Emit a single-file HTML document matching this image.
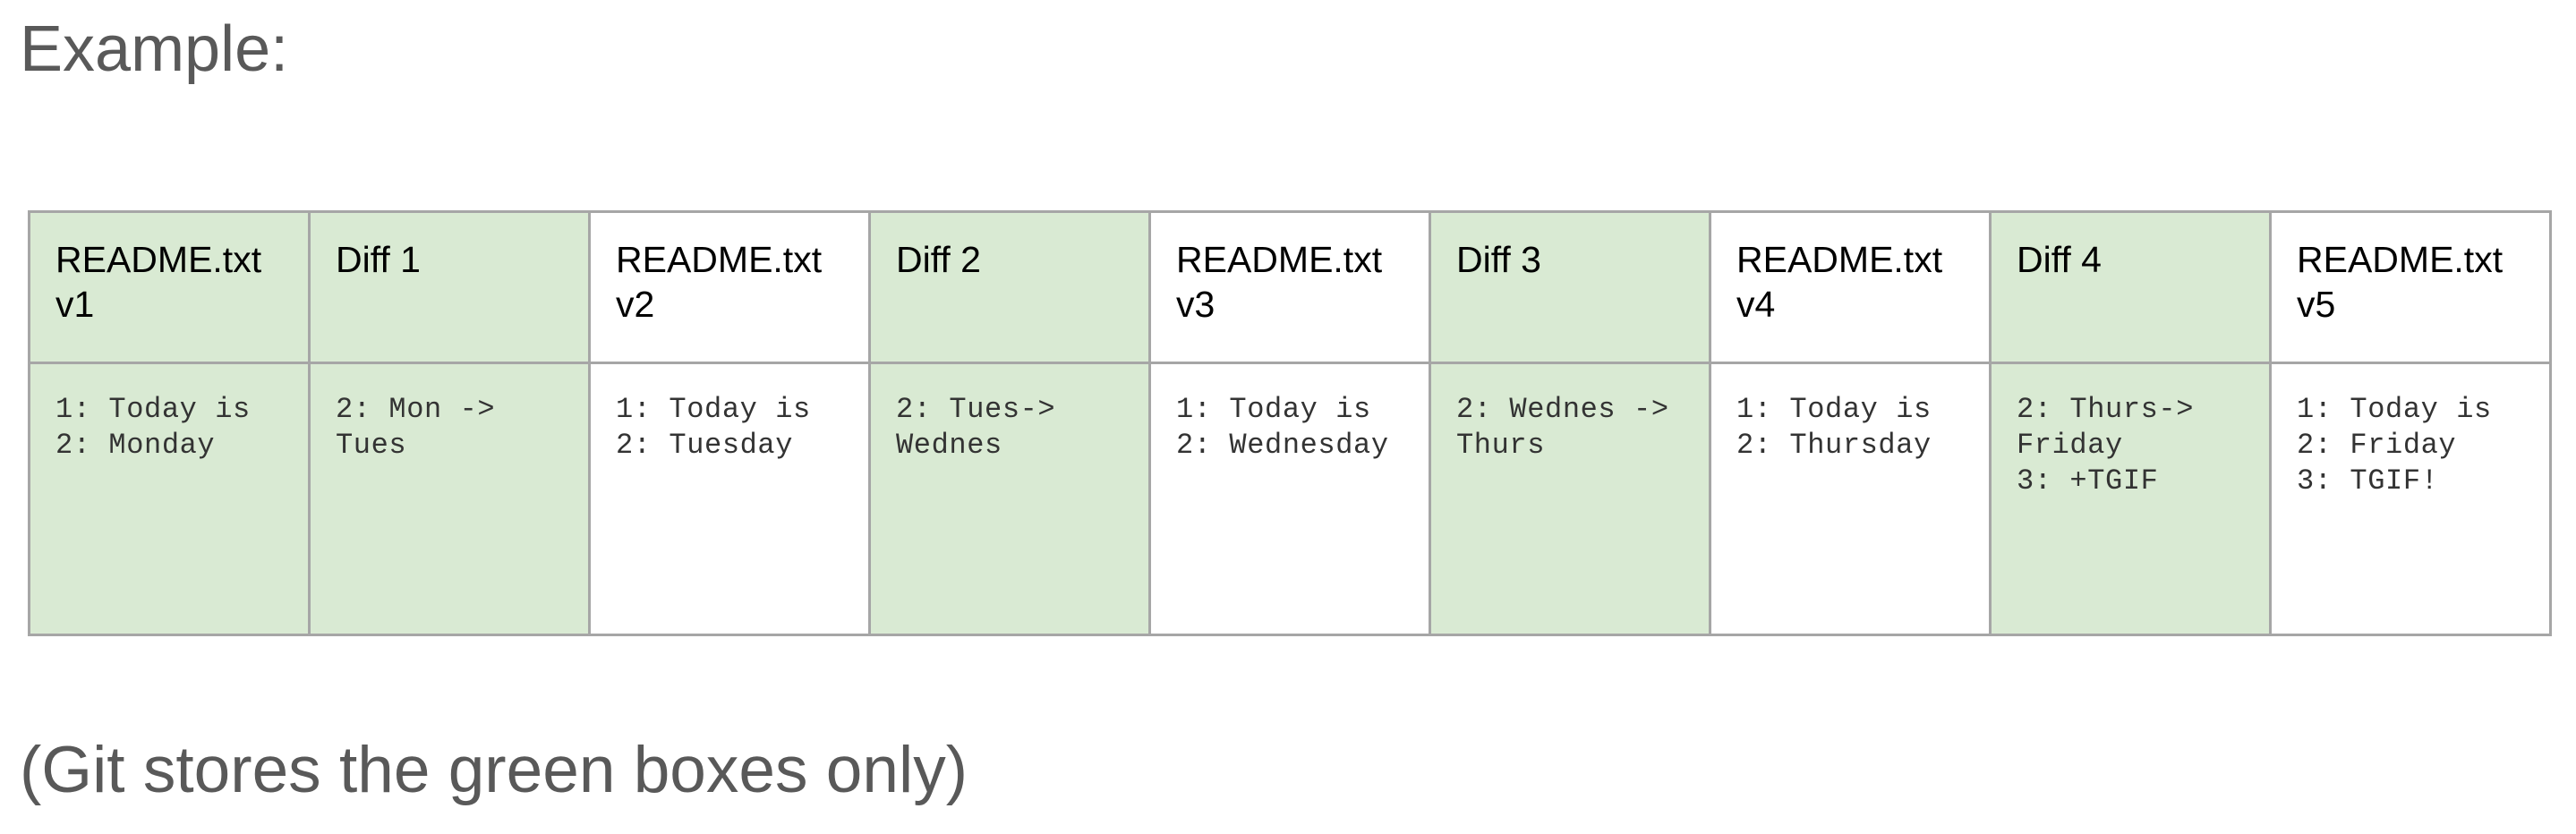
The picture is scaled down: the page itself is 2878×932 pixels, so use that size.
<!DOCTYPE html>
<html><head><meta charset="utf-8"><style>
body{margin:0;width:2878px;height:932px;background:#fff;position:relative;overflow:hidden;font-family:"Liberation Sans",Arial,sans-serif}
.t{position:absolute;left:22px;color:#595959;font-size:72px;line-height:1;white-space:nowrap}
.c{position:absolute;box-sizing:border-box;border:3px solid #a6a6a6}
.g{background:#d9ead3}
.h{position:absolute;font-size:41px;line-height:50px;color:#000;white-space:nowrap}
.m{position:absolute;font-family:"Liberation Mono","Courier New",monospace;font-size:32px;line-height:40px;color:#333;white-space:pre;letter-spacing:0.6px}
</style></head><body>
<div class="t" style="top:19px">Example:</div>
<div class="t" style="top:824px;font-size:73px">(Git stores the green boxes only)</div>
<div id="tbl"></div>
<script>
var hdr=["README.txt<br>v1","Diff 1","README.txt<br>v2","Diff 2","README.txt<br>v3","Diff 3","README.txt<br>v4","Diff 4","README.txt<br>v5"];
var body=["1: Today is\n2: Monday","2: Mon ->\nTues","1: Today is\n2: Tuesday","2: Tues->\nWednes","1: Today is\n2: Wednesday","2: Wednes ->\nThurs","1: Today is\n2: Thursday","2: Thurs->\nFriday\n3: +TGIF","1: Today is\n2: Friday\n3: TGIF!"];
var h="";
for(var i=0;i<9;i++){
 var x=Math.round(31+313*i), w=Math.round(31+313*(i+1))-x+3;
 var g=(i==0||i%2==1)?" g":"";
 h+='<div class="c'+g+'" style="left:'+x+'px;top:235px;width:'+w+'px;height:172px"></div>';
 h+='<div class="c'+g+'" style="left:'+x+'px;top:404px;width:'+w+'px;height:307px"></div>';
 h+='<div class="h" style="left:'+(x+31)+'px;top:265px">'+hdr[i]+'</div>';
 h+='<div class="m" style="left:'+(x+31)+'px;top:438px">'+body[i]+'</div>';
}
document.getElementById("tbl").innerHTML=h;
</script>
</body></html>
